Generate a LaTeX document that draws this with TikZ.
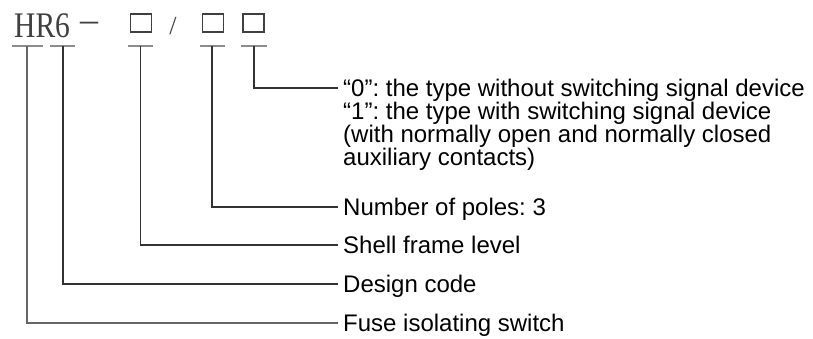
\documentclass[tikz,border=0pt]{standalone}
\usepackage{graphicx}
\usepackage{fontspec}
\setmainfont{Liberation Sans}
\newfontfamily\serifhr{Liberation Serif}
\frenchspacing
\begin{document}
\begin{tikzpicture}[x=1pt,y=-1pt,
  conn/.style={draw=black!80,line width=1.6pt},
  tickbar/.style={draw=black!45,line width=1.6pt},
  lbl/.style={anchor=base west,inner sep=0pt,font=\frenchspacing\fontsize{24}{23}\selectfont},
  codebox/.style={draw=black!75,line width=1.8pt,minimum width=21pt,minimum height=18.5pt,inner sep=0pt},
  codetxt/.style={inner sep=0pt,text=black!75,font=\serifhr}]
\useasboundingbox (0,0) rectangle (813,339);
% code row
\node[codetxt,anchor=base west,font=\serifhr\fontsize{36}{36}\selectfont] (hr) at (14,38) {\scalebox{0.82}[1]{HR6}};
\node[codetxt,anchor=base,font=\serifhr\fontsize{36}{36}\selectfont] (dash) at (89,32) {–};
\node[codebox] (b1) at (141,23) {};
\node[codetxt,anchor=base,font=\serifhr\fontsize{26}{26}\selectfont] (sl) at (173,35) {/};
\node[codebox] (b2) at (213,23) {};
\node[codebox] (b3) at (253.5,23) {};
% tick coordinates
\coordinate (k1) at (27,46);
\coordinate (k2) at (63,46);
\coordinate (k3) at (140.5,46);
\coordinate (k4) at (212,46);
\coordinate (k5) at (254,46);
\draw[tickbar] ([xshift=-15pt]k1) -- ([xshift=16pt]k1);
\draw[tickbar] ([xshift=-13pt]k2) -- ([xshift=12pt]k2);
\draw[tickbar] ([xshift=-12.5pt]k3) -- ([xshift=12.5pt]k3);
\draw[tickbar] ([xshift=-12pt]k4) -- ([xshift=13pt]k4);
\draw[tickbar] ([xshift=-13pt]k5) -- ([xshift=13pt]k5);
% labels
\node[lbl] (t0) at (343,96.6) {“0”: the type without switching signal device};
\node[lbl] (t1) at (343,119.6) {“1”: the type with switching signal device};
\node[lbl] (t2) at (343,142.6) {(with normally open and normally closed};
\node[lbl] (t3) at (343,165.6) {auxiliary contacts)};
\node[lbl] (np) at (343,215.6) {Number of poles: 3};
\node[lbl] (sf) at (343,253.6) {Shell frame level};
\node[lbl] (dc) at (343,292.6) {Design code};
\node[lbl] (fi) at (343,331.6) {Fuse isolating switch};
% connectors
\draw[conn] (k5) |- ([xshift=-5pt,yshift=8.6pt]t0.base west);
\draw[conn] (k4) |- ([xshift=-5pt,yshift=8.6pt]np.base west);
\draw[conn] (k3) |- ([xshift=-5pt,yshift=8.6pt]sf.base west);
\draw[conn] (k2) |- ([xshift=-5pt,yshift=8.6pt]dc.base west);
\draw[conn,draw=black!60] (k1) |- ([xshift=-5pt,yshift=8.6pt]fi.base west);
\end{tikzpicture}
\end{document}
